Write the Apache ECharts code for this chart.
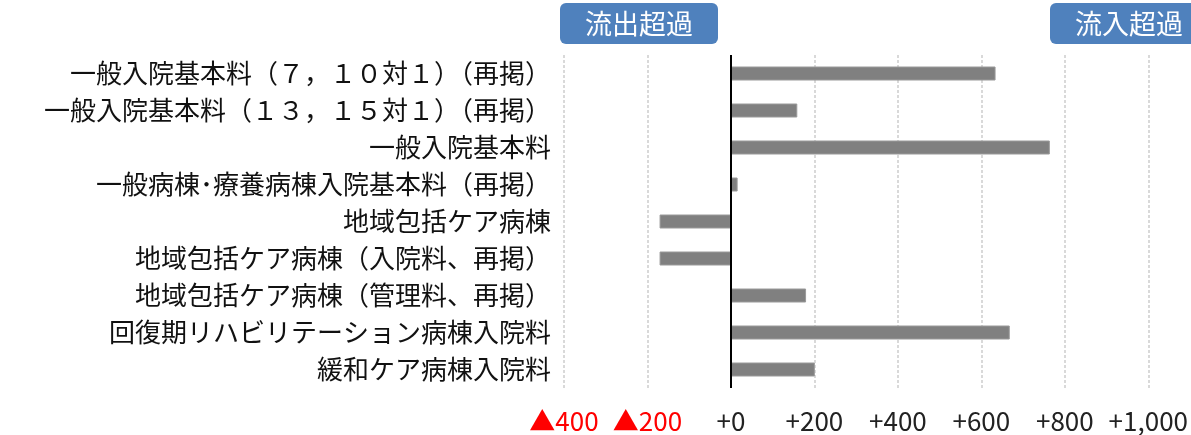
<!DOCTYPE html>
<html><head><meta charset="utf-8">
<script src="https://cdn.jsdelivr.net/npm/echarts@6/dist/echarts.min.js"></script>
<style>html,body{margin:0;padding:0;background:#fff}#c{width:1191px;height:435px}</style>
</head><body><div id="c"></div>
<script>
const categories = [
  '一般入院基本料（７，１０対１）（再掲）',
  '一般入院基本料（１３，１５対１）（再掲）',
  '一般入院基本料',
  '一般病棟･療養病棟入院基本料（再掲）',
  '地域包括ケア病棟',
  '地域包括ケア病棟（入院料、再掲）',
  '地域包括ケア病棟（管理料、再掲）',
  '回復期リハビリテーション病棟入院料',
  '緩和ケア病棟入院料'
];
const values = [634, 159, 764, 16, -171, -171, 180, 668, 201];
const axisMin = -400, axisMax = 1000, axisStep = 200;
const boxLabels = ['流出超過', '流入超過'];

const FONT = '"Noto Sans CJK JP", "Noto Sans", sans-serif';
const chart = echarts.init(document.getElementById('c'));
chart.setOption({
  animation: false,
  grid: { left: 564, right: 33, top: 55, bottom: 47, containLabel: false },
  xAxis: {
    type: 'value', min: axisMin, max: axisMax, interval: axisStep,
    axisLine: { show: false }, axisTick: { show: false },
    splitLine: { show: true, lineStyle: { color: '#d9d9d9', width: 2, type: [3, 2] } },
    axisLabel: {
      margin: 20, fontSize: 26, fontFamily: FONT, color: '#222',
      formatter: v => v < 0 ? '{r|▲' + Math.abs(v) + '}' : '+' + v.toLocaleString('en-US'),
      rich: { r: { color: '#ff0000', fontSize: 26, fontFamily: FONT } }
    }
  },
  yAxis: {
    type: 'category', data: categories, inverse: true,
    axisLine: { show: false }, axisTick: { show: false },
    axisLabel: { fontSize: 26, fontFamily: FONT, color: '#111', margin: 13 }
  },
  series: [{
    type: 'bar', data: values, barWidth: 14,
    itemStyle: { color: '#808080', borderColor: '#9a9a9a', borderWidth: 1 },
    markLine: {
      silent: true, symbol: 'none', label: { show: false },
      lineStyle: { color: '#000', width: 2, type: 'solid' },
      data: [{ xAxis: 0 }]
    }
  }],
  graphic: [
    { type: 'group', left: 560, top: 3, children: [
      { type: 'rect', shape: { x: 0, y: 0, width: 158, height: 41, r: 6 }, style: { fill: '#4f81bd' } },
      { type: 'text', x: 79, y: 21, style: { text: boxLabels[0], fill: '#fff', font: '27px ' + FONT, align: 'center', verticalAlign: 'middle' } }
    ]},
    { type: 'group', left: 1050, top: 3, children: [
      { type: 'rect', shape: { x: 0, y: 0, width: 158, height: 41, r: 6 }, style: { fill: '#4f81bd' } },
      { type: 'text', x: 79, y: 21, style: { text: boxLabels[1], fill: '#fff', font: '27px ' + FONT, align: 'center', verticalAlign: 'middle' } }
    ]}
  ]
});
</script></body></html>
